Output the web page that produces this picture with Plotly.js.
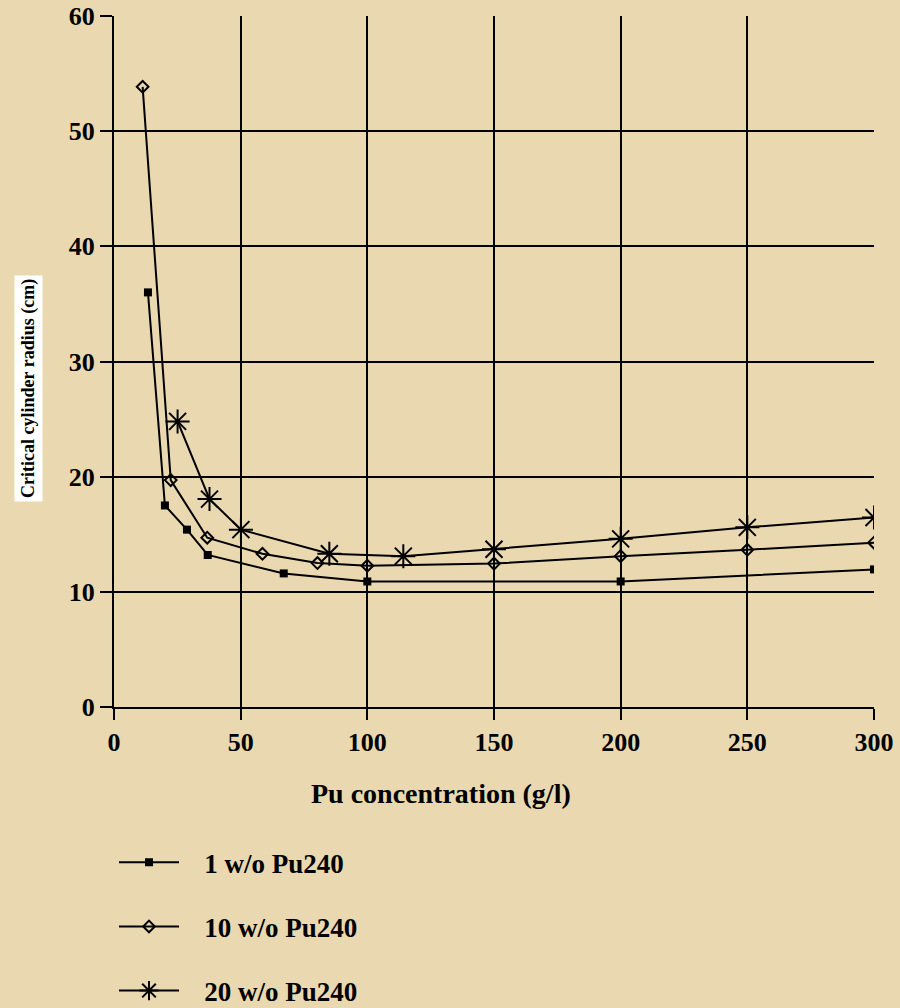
<!DOCTYPE html>
<html>
<head>
<meta charset="utf-8">
<script src="https://cdn.plot.ly/plotly-3.0.1.min.js"></script>
<style>html,body{margin:0;padding:0;background:#E9D8B0;}#chart{width:900px;height:1008px;}</style>
</head>
<body>
<div id="chart"></div>
<script>
const seriesNames = ["1 w/o Pu240", "10 w/o Pu240", "20 w/o Pu240"];
const x1 = [13.4, 20.1, 28.8, 37.0, 67.0, 100.0, 200.0, 300.0];
const y1 = [36.0, 17.5, 15.4, 13.2, 11.6, 10.9, 10.9, 11.95];
const x10 = [11.3, 22.4, 36.8, 58.6, 80.3, 100.0, 150.0, 200.0, 250.0, 300.0];
const y10 = [53.85, 19.7, 14.7, 13.3, 12.5, 12.27, 12.45, 13.1, 13.65, 14.27];
const x20 = [25.1, 37.7, 50.1, 85.0, 114.2, 150.0, 200.0, 250.0, 300.0];
const y20 = [24.8, 18.05, 15.4, 13.3, 13.1, 13.7, 14.6, 15.6, 16.45];
const xTicks = [0, 50, 100, 150, 200, 250, 300];
const yTicks = [0, 10, 20, 30, 40, 50, 60];

const bg = "#E9D8B0";
const font = "Liberation Serif, Times New Roman, serif";
const lineStyle = {color: "#000", width: 2};
const pad = "\u00a0\u00a0\u00a0";

const traces = [
  {x: x1, y: y1, name: pad + seriesNames[0], mode: "lines+markers", legendgroup: "a",
   line: lineStyle, marker: {symbol: "square", size: 8, color: "#000"}},
  {x: x10, y: y10, name: pad + seriesNames[1], mode: "lines+markers", legendgroup: "b",
   line: lineStyle, marker: {symbol: "diamond-open", size: 9, color: "#000", line: {width: 2, color: "#000"}}},
  {x: x20, y: y20, name: pad + seriesNames[2], mode: "lines+markers", legendgroup: "c",
   line: lineStyle, marker: {symbol: "asterisk-open", size: 20, color: "#000", line: {width: 2, color: "#000"}}}
];

const tickFont = {family: font, size: 26, color: "#000", weight: "bold"};

const layout = {
  width: 900, height: 1008,
  paper_bgcolor: bg, plot_bgcolor: bg,
  margin: {l: 114, r: 26, t: 16, b: 301, autoexpand: false},
  font: {family: font, size: 26, color: "#000"},
  xaxis: {range: [0, 300], tickvals: xTicks, ticktext: xTicks.map(String),
    showgrid: true, gridcolor: "#000", gridwidth: 2, zeroline: false,
    showline: true, linecolor: "#000", linewidth: 2,
    ticks: "outside", ticklen: 11, tickwidth: 2, tickcolor: "#000",
    tickfont: tickFont},
  yaxis: {range: [0, 60], tickvals: yTicks, ticktext: yTicks.map(String),
    showgrid: true, gridcolor: "#000", gridwidth: 2, zeroline: false,
    showline: true, linecolor: "#000", linewidth: 2,
    ticks: "outside", ticklen: 12, tickwidth: 2, tickcolor: "#000",
    tickfont: tickFont},
  showlegend: true,
  legend: {x: 0.0, y: -0.19, xanchor: "left", yanchor: "top",
    bgcolor: "rgba(0,0,0,0)", tracegroupgap: 26, itemwidth: 60,
    font: {family: font, size: 27, color: "#000", weight: "bold"}},
  annotations: [
    {text: "<b>Pu concentration (g/l)</b>", xref: "paper", yref: "paper",
     x: (441 - 114) / 760, y: -(793 - 707) / 691, xanchor: "center", yanchor: "middle",
     showarrow: false, font: {family: font, size: 28, color: "#000"}},
    {text: "<b>Critical cylinder radius (cm)</b>", xref: "paper", yref: "paper",
     x: -(114 - 28) / 760, y: (707 - 389) / 691, xanchor: "center", yanchor: "middle",
     textangle: -90, showarrow: false, bgcolor: "#fff", borderpad: 3,
     font: {family: font, size: 18, color: "#000"}}
  ]
};

Plotly.newPlot("chart", traces, layout, {displayModeBar: false});
</script>
</body>
</html>
